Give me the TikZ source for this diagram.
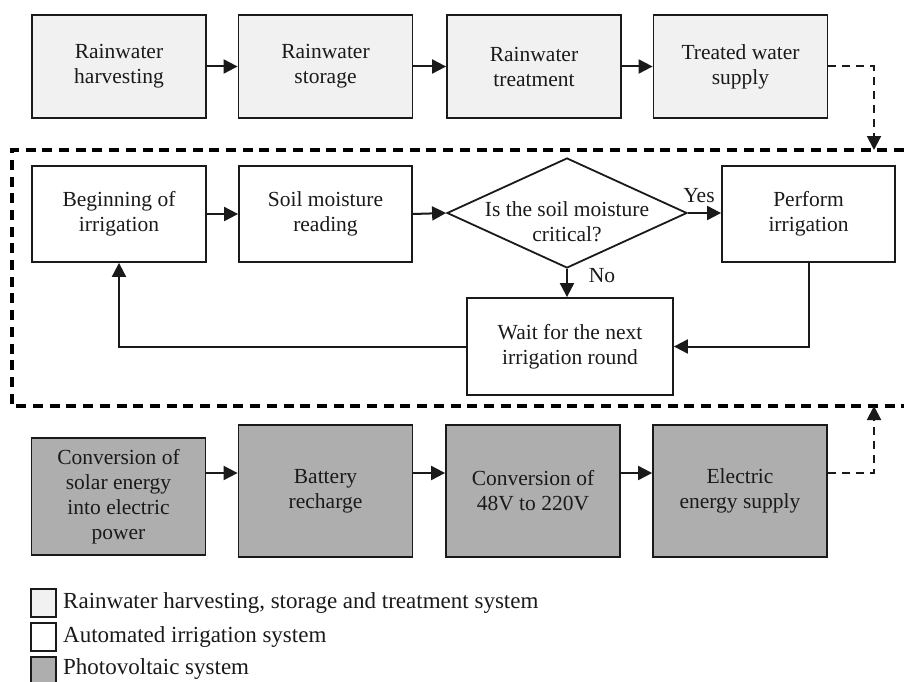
\documentclass[tikz,border=0pt]{standalone}
\usepackage{fontspec}
\setmainfont{Liberation Serif}
\usetikzlibrary{arrows.meta,shapes.geometric}
\definecolor{lightfill}{HTML}{F1F1F1}
\definecolor{darkfill}{HTML}{AEAEAE}
\definecolor{edge}{HTML}{1A1A1A}
\tikzset{
  txt/.style={font=\fontsize{21.5}{25}\selectfont, text=edge},
  box/.style={txt, draw=edge, line width=1.8pt, inner sep=0pt, align=center},
  rbox/.style={box, fill=lightfill, minimum width=174pt, minimum height=103pt},
  ibox/.style={box, fill=white},
  pbox/.style={box, fill=darkfill, minimum width=174pt},
  flow/.style={draw=edge, line width=2pt, -{Triangle[length=14pt,width=14pt]}},
  dashflow/.style={draw=edge, line width=2pt, dash pattern=on 8pt off 6pt, -{Triangle[length=14pt,width=14pt]}},
  frame/.style={draw=black, line width=4pt, dash pattern=on 10pt off 6.7pt},
  legsq/.style={draw=edge, line width=1.5pt, minimum width=25pt, minimum height=28pt, inner sep=0pt},
  legtxt/.style={font=\fontsize{23}{26}\selectfont, text=edge, anchor=west, inner sep=0pt}
}
\begin{document}
\begin{tikzpicture}[x=1pt,y=1pt]
\useasboundingbox (0,0) rectangle (904,-682);
% top row
\node[rbox] (t1) at (119,-66.5) {Rainwater\\harvesting};
\node[rbox] (t2) at (325.5,-66.5) {Rainwater\\storage};
\node[rbox] (t3) at (534,-66.5) {Rainwater\\treatment};
\node[rbox] (t4) at (740.5,-66.5) {Treated water\\supply};
\draw[flow] (t1) -- (t2);
\draw[flow] (t2) -- (t3);
\draw[flow] (t3) -- (t4);
% frame
\draw[frame] (904,-150) -- (12,-150) -- (12,-406) -- (904,-406);
\coordinate (ftop) at (874,-150);
\coordinate (fbot) at (874,-406);
\draw[dashflow] (t4.east) -| (ftop);
% middle
\node[ibox, minimum width=174pt, minimum height=96pt] (beg) at (119,-214) {Beginning of\\irrigation};
\node[ibox, minimum width=173pt, minimum height=96pt] (soil) at (325.5,-214) {Soil moisture\\reading};
\node[draw=edge, line width=1.8pt, fill=white, diamond, minimum width=240pt, minimum height=110pt, inner sep=0pt] (dia) at (567,-213) {};
\node[txt, align=center, inner sep=0pt] (diat) at (567,-222) {Is the soil moisture\\critical?};
\node[ibox, minimum width=173pt, minimum height=96pt] (perf) at (808.5,-214) {Perform\\irrigation};
\node[ibox, minimum width=206pt, minimum height=97pt] (wait) at (570,-346.5) {Wait for the next\\irrigation round};
\draw[flow] (beg) -- (soil);
\draw[flow] (soil.east) -- (dia.west);
\draw[flow] (dia.east) -- (perf.west |- dia.east);
\node[txt, inner sep=0pt] (yes) at (699,-196) {Yes};
\draw[flow] (dia.south) -- (dia.south |- wait.north);
\node[txt, inner sep=0pt] (no) at (602,-276) {No};
\draw[flow] (perf.south) |- (wait.east);
\draw[flow] (wait.west) -| (beg.south);
% bottom row
\node[pbox, minimum height=117pt] (b1) at (118.5,-496.5) {Conversion of\\solar energy\\into electric\\power};
\node[pbox, minimum height=132pt] (b2) at (325.5,-491) {Battery\\recharge};
\node[pbox, minimum height=132pt] (b3) at (533,-491) {Conversion of\\48V to 220V};
\node[pbox, minimum height=132pt] (b4) at (740,-491) {Electric\\energy supply};
\coordinate (ya) at (0,-473);
\draw[flow] (b1.east |- ya) -- (b2.west |- ya);
\draw[flow] (b2.east |- ya) -- (b3.west |- ya);
\draw[flow] (b3.east |- ya) -- (b4.west |- ya);
\draw[dashflow] (b4.east |- ya) -| (fbot);
% legend
\node[legsq, fill=lightfill] (l1) at (43.5,-603) {};
\node[legsq, fill=white] (l2) at (43.5,-637) {};
\node[legsq, fill=darkfill] (l3) at (43.5,-671) {};
\node[legtxt] (lt1) at (63,-603) {Rainwater harvesting, storage and treatment system};
\node[legtxt] (lt2) at (63,-637) {Automated irrigation system};
\node[legtxt] (lt3) at (63,-669) {Photovoltaic system};
\end{tikzpicture}
\end{document}
